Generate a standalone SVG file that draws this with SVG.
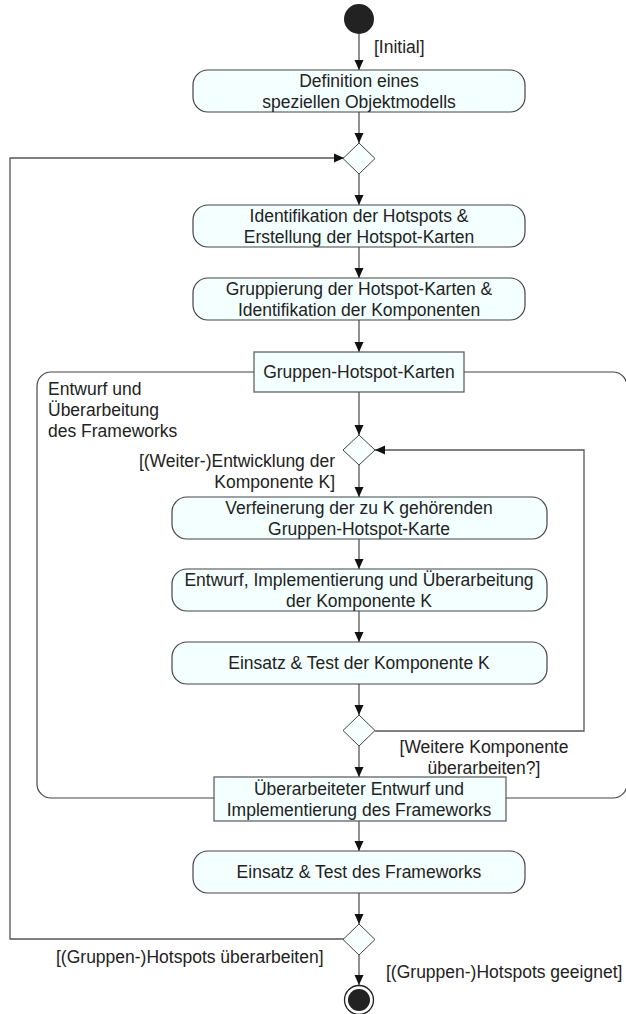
<svg xmlns="http://www.w3.org/2000/svg" width="626" height="1014" viewBox="0 0 626 1014">
<defs>
<marker id="arr" markerUnits="userSpaceOnUse" markerWidth="10" markerHeight="10" refX="10" refY="5" orient="auto">
<path d="M0,0.5 L10,5 L0,9.5 z" fill="#111"/>
</marker>
<style>
text{font-family:"Liberation Sans",Arial,sans-serif;font-size:17.5px;fill:#222}
.c{text-anchor:middle}
.e{text-anchor:end}
.act{fill:#F4FFFF;stroke:#444;stroke-width:1.2}
.obj{fill:#F4FFFF;stroke:#555;stroke-width:1.2}
.dec{fill:#F8FFFF;stroke:#444;stroke-width:1}
.ln{fill:none;stroke:#555;stroke-width:1.3}
.ar{fill:none;stroke:#555;stroke-width:1.3;marker-end:url(#arr)}
.reg{fill:none;stroke:#444;stroke-width:1.2}
</style>
</defs>
<rect width="626" height="1014" fill="#fff"/>

<g id="region">
<rect class="reg" x="37" y="372" width="590" height="426" rx="14"/>
<text x="48" y="395">Entwurf und</text>
<text x="48" y="416">Überarbeitung</text>
<text x="48" y="437">des Frameworks</text>
</g>

<g id="connectors">
<line class="ar" x1="359" y1="34" x2="359" y2="70"/>
<line class="ar" x1="359" y1="112" x2="359" y2="143"/>
<path class="ar" d="M344,939 H10 V158 H344"/>
<line class="ar" x1="359" y1="174" x2="359" y2="205"/>
<line class="ar" x1="359" y1="247" x2="359" y2="278"/>
<line class="ar" x1="359" y1="320" x2="359" y2="352"/>
<line class="ar" x1="359" y1="392" x2="359" y2="435"/>
<line class="ar" x1="359" y1="465" x2="359" y2="497"/>
<line class="ar" x1="359" y1="539" x2="359" y2="569"/>
<line class="ar" x1="359" y1="611" x2="359" y2="642"/>
<line class="ar" x1="359" y1="684" x2="359" y2="715"/>
<path class="ar" d="M375,731 H584 V450 H375"/>
<line class="ar" x1="359" y1="746" x2="359" y2="777"/>
<line class="ar" x1="359" y1="821" x2="359" y2="851"/>
<line class="ar" x1="359" y1="893" x2="359" y2="924"/>
<line class="ar" x1="359" y1="955" x2="359" y2="985"/>
<text x="374" y="53">[Initial]</text>
<text class="e" x="335" y="467">[(Weiter-)Entwicklung der</text>
<text class="e" x="335" y="488">Komponente K]</text>
<text class="c" x="484" y="753">[Weitere Komponente</text>
<text class="c" x="484" y="774">überarbeiten?]</text>
<text x="56" y="963">[(Gruppen-)Hotspots überarbeiten]</text>
<text x="386" y="978">[(Gruppen-)Hotspots geeignet]</text>
</g>

<g id="start">
<circle cx="359" cy="19" r="15" fill="#222"/>
</g>

<g id="a1">
<rect class="act" x="193" y="70" width="332" height="42" rx="15"/>
<text class="c" x="359" y="87">Definition eines</text>
<text class="c" x="359" y="108">speziellen Objektmodells</text>
</g>

<g id="d1">
<polygon class="dec" points="359,143 375,158.5 359,174 343,158.5"/>
</g>

<g id="a2">
<rect class="act" x="193" y="205" width="332" height="42" rx="15"/>
<text class="c" x="359" y="222">Identifikation der Hotspots &amp;</text>
<text class="c" x="359" y="243">Erstellung der Hotspot-Karten</text>
</g>

<g id="a3">
<rect class="act" x="193" y="278" width="332" height="42" rx="15"/>
<text class="c" x="359" y="295">Gruppierung der Hotspot-Karten &amp;</text>
<text class="c" x="359" y="316">Identifikation der Komponenten</text>
</g>

<g id="o1">
<rect class="obj" x="254" y="352" width="210" height="40"/>
<text class="c" x="359" y="378">Gruppen-Hotspot-Karten</text>
</g>

<g id="d2">
<polygon class="dec" points="359,435 375,450 359,465 343,450"/>
</g>

<g id="a4">
<rect class="act" x="172" y="497" width="375" height="42" rx="15"/>
<text class="c" x="359" y="514">Verfeinerung der zu K gehörenden</text>
<text class="c" x="359" y="535">Gruppen-Hotspot-Karte</text>
</g>

<g id="a5">
<rect class="act" x="172" y="569" width="375" height="42" rx="15"/>
<text class="c" x="359" y="586">Entwurf, Implementierung und Überarbeitung</text>
<text class="c" x="359" y="607">der Komponente K</text>
</g>

<g id="a6">
<rect class="act" x="172" y="642" width="375" height="42" rx="15"/>
<text class="c" x="359" y="669">Einsatz &amp; Test der Komponente K</text>
</g>

<g id="d3">
<polygon class="dec" points="359,715 375,730.5 359,746 343,730.5"/>
</g>

<g id="o2">
<rect class="obj" x="214" y="777" width="292" height="44"/>
<text class="c" x="359" y="795">Überarbeiteter Entwurf und</text>
<text class="c" x="359" y="816">Implementierung des Frameworks</text>
</g>

<g id="a7">
<rect class="act" x="193" y="851" width="332" height="42" rx="15"/>
<text class="c" x="359" y="878">Einsatz &amp; Test des Frameworks</text>
</g>

<g id="d4">
<polygon class="dec" points="359,924 375,939.5 359,955 343,939.5"/>
</g>

<g id="final">
<circle cx="359" cy="1000" r="14.5" fill="#fff" stroke="#222" stroke-width="1.3"/>
<circle cx="359" cy="1000" r="11" fill="#222"/>
</g>
</svg>
